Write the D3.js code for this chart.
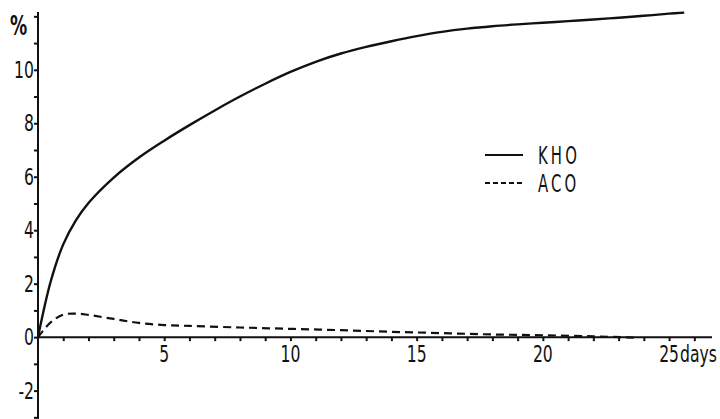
<!DOCTYPE html>
<html>
<head>
<meta charset="utf-8">
<script src="https://cdn.jsdelivr.net/npm/d3@7"></script>
<style>
  body { margin: 0; background: #fff; }
  text { font-family: "DejaVu Sans", sans-serif; fill: #111; }
</style>
</head>
<body>
<svg class="chart" width="720" height="419"></svg>
<script>
// values (days, %)
var days = [0, 0.5, 1, 1.5, 2, 3, 4, 5, 6, 7, 8, 9, 10, 11, 12, 13, 14, 15, 16, 17, 18, 19, 20, 21, 22, 23, 24, 25, 25.6];
var kho  = [0, 2.07, 3.47, 4.37, 5.02, 5.97, 6.72, 7.35, 7.93, 8.48, 9.0, 9.48, 9.92, 10.3, 10.61, 10.86, 11.07, 11.26, 11.42, 11.54, 11.63, 11.7, 11.76, 11.82, 11.88, 11.95, 12.02, 12.1, 12.14];
var acoDays = [0, 0.5, 1, 1.5, 2, 3, 4, 5, 6, 8, 10, 12, 14, 16, 18, 20, 22, 23.6];
var aco     = [0, 0.55, 0.84, 0.88, 0.83, 0.68, 0.53, 0.45, 0.42, 0.36, 0.31, 0.26, 0.2, 0.15, 0.1, 0.07, 0.03, -0.02];
var xLabels = [5, 10, 15, 20, 25];
var yLabels = [-2, 0, 2, 4, 6, 8, 10];
var legend = ["KHO", "ACO"];

var svg = d3.select(".chart");
var x = d3.scaleLinear().domain([0, 26.7]).range([38, 712]);
var y = d3.scaleLinear().domain([-3.1, 12.2]).range([420, 11]);

// narrow lettering like the original: squeeze DejaVu horizontally
function squeeze(sx, px, py) { return "translate(" + px + "," + py + ") scale(" + sx + ",1)"; }

var line = d3.line()
    .x(function (d) { return x(d[0]); })
    .y(function (d) { return y(d[1]); })
    .curve(d3.curveCatmullRom.alpha(0.5));

// x axis with day ticks pointing down
var xAxis = d3.axisBottom(x)
    .tickValues(d3.range(1, 27))
    .tickSize(4)
    .tickFormat("");
var gx = svg.append("g").attr("transform", "translate(0," + y(0) + ")").call(xAxis);
gx.select(".domain").attr("d", "M" + x(0) + ",0H712");
gx.selectAll("line, path").attr("stroke", "#111").attr("stroke-width", 2);

gx.selectAll(".lbl")
    .data(xLabels)
    .enter().append("text")
    .attr("transform", function (d) { return squeeze(0.68, x(d), 25); })
    .attr("text-anchor", "middle")
    .style("font-size", "23px")
    .text(function (d) { return d; });

gx.append("text")
    .attr("transform", squeeze(0.68, x(25) + 11, 25))
    .attr("text-anchor", "start")
    .style("font-size", "23px")
    .text("days");

// y axis
var yAxis = d3.axisLeft(y)
    .tickValues(d3.range(-3, 13))
    .tickSize(4)
    .tickFormat("");
var gy = svg.append("g").attr("transform", "translate(" + x(0) + ",0)").call(yAxis);
gy.select(".domain").attr("d", "M0,12V419");
gy.selectAll("line, path").attr("stroke", "#111").attr("stroke-width", 2);

gy.selectAll(".lbl")
    .data(yLabels)
    .enter().append("text")
    .attr("transform", function (d) { return squeeze(0.68, -4, y(d) + 8); })
    .attr("text-anchor", "end")
    .style("font-size", "23px")
    .text(function (d) { return d < 0 ? "-" + Math.abs(d) : d; });

svg.append("text")
    .attr("transform", squeeze(0.66, 10, 35))
    .style("font-size", "26px")
    .style("font-weight", "bold")
    .text("%");

// curves
svg.append("path")
    .datum(d3.zip(days, kho))
    .attr("fill", "none")
    .attr("stroke", "#111")
    .attr("stroke-width", 2.4)
    .attr("d", line);

svg.append("path")
    .datum(d3.zip(acoDays, aco))
    .attr("fill", "none")
    .attr("stroke", "#111")
    .attr("stroke-width", 2.2)
    .attr("stroke-dasharray", "8,5")
    .attr("d", line);

// legend
var lg = svg.append("g").attr("transform", "translate(485,155)");
lg.selectAll("line")
    .data(legend)
    .enter().append("line")
    .attr("x1", 0).attr("x2", 38)
    .attr("y1", function (d, i) { return i * 28; })
    .attr("y2", function (d, i) { return i * 28; })
    .attr("stroke", "#111")
    .attr("stroke-width", 2.2)
    .attr("stroke-dasharray", function (d, i) { return i ? "5,3" : null; });
lg.selectAll("text")
    .data(legend)
    .enter().append("text")
    .attr("transform", function (d, i) { return squeeze(0.62, 53, i * 28 + 9); })
    .style("font-size", "24px")
    .style("letter-spacing", "5px")
    .text(function (d) { return d; });
</script>
</body>
</html>
